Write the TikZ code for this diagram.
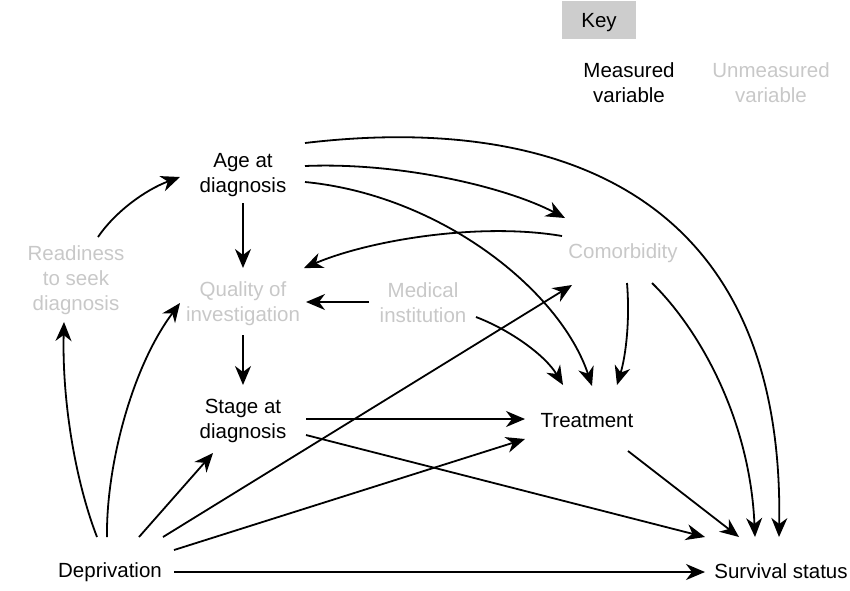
\documentclass[tikz,border=0pt]{standalone}
\usepackage{fontspec}
\setmainfont{Liberation Sans}
\usetikzlibrary{arrows.meta}
\definecolor{unmgray}{RGB}{200,200,200}
\definecolor{keygray}{RGB}{205,205,205}
\begin{document}
\begin{tikzpicture}[x=1pt,y=-1pt,
  every node/.style={inner sep=0pt,align=center,font=\fontsize{20.5}{25}\selectfont},
  meas/.style={text=black},
  unmeas/.style={text=unmgray},
  keybox/.style={fill=keygray,minimum width=74pt,minimum height=38pt,text depth=0pt},
  link/.style={line width=1.8pt,-{Stealth[length=19pt,width=16pt,inset=6pt]}}]
\useasboundingbox (0,0) rectangle (850,590);

% key
\node[keybox] (key) at (599,20) {Key};
\node[meas] (kmeas) at (629,83) {Measured\\variable};
\node[unmeas] (kunmeas) at (771,83) {Unmeasured\\variable};

% variables
\node[meas] (age) at (243,175) {Age at\\diagnosis};
\node[unmeas] (ready) at (76,280) {Readiness\\to seek\\diagnosis};
\node[unmeas] (qual) at (243,304) {Quality of\\investigation};
\node[unmeas] (med) at (423,303) {Medical\\institution};
\node[unmeas] (comor) at (623,253) {Comorbidity};
\node[meas] (stage) at (243,421) {Stage at\\diagnosis};
\node[meas] (treat) at (587,421) {Treatment};
\node[meas] (dep) at (110,572) {Deprivation};
\node[meas] (surv) at (781,571) {Survival status};

% connectors
\draw[link] ([shift={(22,-43)}]ready.center) .. controls (115,212) and (145,190) .. ([shift={(-63,2)}]age.center);
\draw[link] ([shift={(-13,-35)}]dep.center) .. controls (75,480) and (62,400) .. ([shift={(-12,42)}]ready.center);
\draw[link] ([shift={(-3,-35)}]dep.center) .. controls (106,470) and (130,370) .. ([shift={(-63,-1)}]qual.center);
\draw[link] ([shift={(29,-35)}]dep.center) -- ([shift={(-30,32)}]stage.center);
\draw[link] ([shift={(53,-35)}]dep.center) -- ([shift={(-51,32)}]comor.center);
\draw[link] ([shift={(64,-22)}]dep.center) -- ([shift={(-62,18)}]treat.center);
\draw[link] ([shift={(64,0)}]dep.center) -- ([shift={(-76,1)}]surv.center);

\draw[link] ([shift={(0,28)}]age.center) -- ([shift={(0,-36)}]qual.center);
\draw[link] ([shift={(62,-32)}]age.center) .. controls (540,115) and (785,180) .. ([shift={(-2,-34)}]surv.center);
\draw[link] ([shift={(62,-9)}]age.center) .. controls (400,162) and (506,187) .. ([shift={(-58,-35)}]comor.center);
\draw[link] ([shift={(62,7)}]age.center) .. controls (440,195) and (560,290) .. ([shift={(5,-35)}]treat.center);

\draw[link] ([shift={(-61,-17)}]comor.center) .. controls (480,222) and (370,240) .. ([shift={(61,-36)}]qual.center);
\draw[link] ([shift={(4,30)}]comor.center) .. controls (630,320) and (626,355) .. ([shift={(30,-36)}]treat.center);
\draw[link] ([shift={(29,30)}]comor.center) .. controls (700,330) and (750,420) .. ([shift={(-26,-34)}]surv.center);

\draw[link] ([shift={(-54,-1)}]med.center) -- ([shift={(63,-2)}]qual.center);
\draw[link] ([shift={(53,14)}]med.center) .. controls (510,330) and (545,355) .. ([shift={(-24,-36)}]treat.center);

\draw[link] ([shift={(0,31)}]qual.center) -- ([shift={(0,-36)}]stage.center);
\draw[link] ([shift={(63,-2)}]stage.center) -- ([shift={(-62,-2)}]treat.center);
\draw[link] ([shift={(63,14)}]stage.center) -- ([shift={(-76,-34)}]surv.center);
\draw[link] ([shift={(41,30)}]treat.center) -- ([shift={(-42,-34)}]surv.center);
\end{tikzpicture}
\end{document}
